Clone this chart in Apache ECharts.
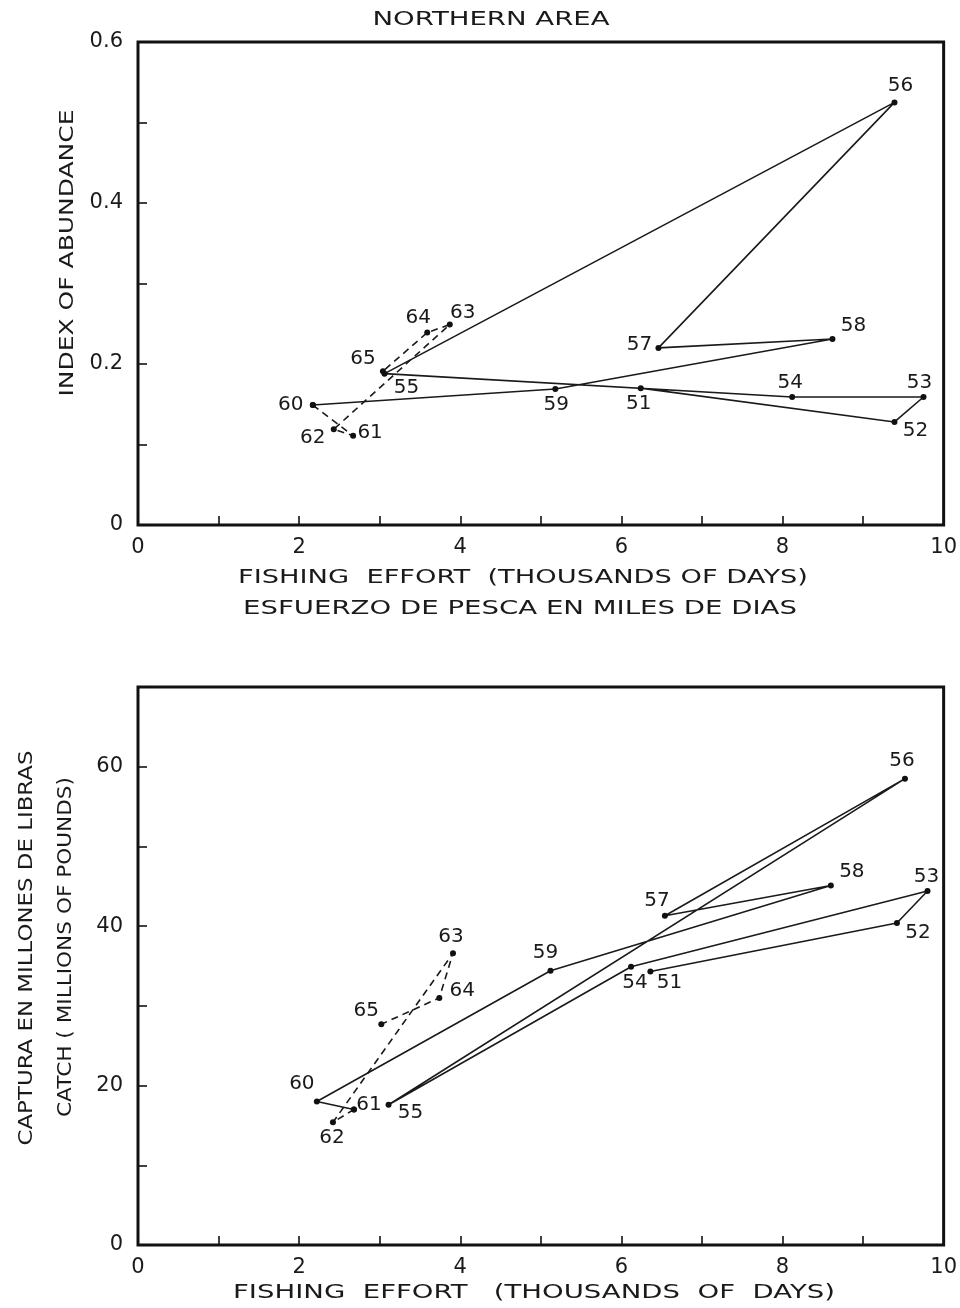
<!DOCTYPE html>
<html>
<head>
<meta charset="utf-8">
<script src="https://cdn.jsdelivr.net/npm/echarts@6/dist/echarts.min.js"></script>
<style>
  html, body { margin: 0; padding: 0; background: #fff; }
  #chart { width: 960px; height: 1308px; }
</style>
</head>
<body>
<div id="chart"></div>
<script>
// season labels (19xx)
const years = ["51", "52", "53", "54", "55", "56", "57", "58", "59", "60", "61", "62", "63", "64", "65"];

// upper panel: effort (thousands of days) vs index of abundance
const effortTop = [6.24, 9.39, 9.75, 8.12, 3.06, 9.39, 6.46, 8.62, 5.18, 2.17, 2.67, 2.43, 3.87, 3.59, 3.04];
const abundance = [0.170, 0.128, 0.159, 0.159, 0.188, 0.525, 0.220, 0.231, 0.169, 0.149, 0.111, 0.119, 0.249, 0.239, 0.191];

// lower panel: effort vs catch (millions of pounds)
const effortBottom = [6.36, 9.42, 9.80, 6.12, 3.11, 9.52, 6.54, 8.60, 5.12, 2.22, 2.68, 2.42, 3.91, 3.74, 3.02];
const catchMillions = [34.3, 40.4, 44.4, 34.9, 17.6, 58.5, 41.3, 45.1, 34.4, 18.0, 17.0, 15.4, 36.6, 31.0, 27.7];

// where each year label sits relative to its dot (px)
const labelOffsetTop = [[-2, 16], [21, 9], [-4, -14], [-2, -14], [22, 14], [6, -17], [-19, -3], [21, -13],
  [1, 16], [-22, 0], [17, -3], [-21, 9], [13, -12], [-9, -15], [-20, -12]];
const labelOffsetBottom = [[19, 11], [21, 10], [-1, -14], [4, 16], [22, 8], [-3, -18], [-8, -15], [21, -14],
  [-5, -18], [-15, -18], [15, -5], [-1, 16], [-2, -16], [23, -7], [-15, -13]];

const FONT = "DejaVu Sans";
const INK = "#1a1a1a";

const chart = echarts.init(document.getElementById("chart"));

const measureCtx = document.createElement("canvas").getContext("2d");
function fitScale(text, size, width) {
  measureCtx.font = size + "px '" + FONT + "'";
  return width / measureCtx.measureText(text).width;
}

function points(xs, ys, offsets, from, to, skip) {
  const out = [];
  for (let i = from; i <= to; i++) {
    out.push({
      value: [xs[i], ys[i]],
      label: { show: i !== skip, formatter: years[i], offset: offsets[i] },
    });
  }
  return out;
}

function track(idx, data, dashed) {
  return {
    type: "line",
    xAxisIndex: idx,
    yAxisIndex: idx,
    data: data,
    symbol: "circle",
    symbolSize: 6,
    itemStyle: { color: "#111" },
    lineStyle: { color: INK, width: 1.6, type: dashed ? [7, 5] : "solid" },
    label: { position: "inside", color: INK, fontSize: 20, fontFamily: FONT },
    silent: true,
  };
}

function title(text, x, y, width, vertical) {
  const size = 20;
  return {
    type: "text",
    x: x,
    y: y,
    rotation: vertical ? Math.PI / 2 : 0,
    scaleX: fitScale(text, size, width),
    silent: true,
    style: {
      text: text,
      fontSize: size,
      fontFamily: FONT,
      fill: INK,
      align: "center",
      verticalAlign: "middle",
    },
  };
}

const xAxisBase = {
  type: "value",
  min: 0,
  max: 10,
  interval: 1,
  axisLine: { show: false },
  axisTick: { inside: true, length: 9, lineStyle: { color: "#111", width: 1.6 } },
  axisLabel: {
    color: INK,
    fontSize: 21,
    fontFamily: FONT,
    margin: 12,
    formatter: (v) => (v % 2 === 0 ? String(v) : ""),
  },
  splitLine: { show: false },
};

const yTick = { inside: true, length: 9, lineStyle: { color: "#111", width: 1.6 } };

const option = {
  animation: false,
  backgroundColor: "#fff",
  grid: [
    { left: 138, top: 42, width: 809, height: 483, show: true, borderColor: "#111", borderWidth: 3 },
    { left: 138, top: 687, width: 809, height: 558, show: true, borderColor: "#111", borderWidth: 3 },
  ],
  xAxis: [
    Object.assign({ gridIndex: 0 }, xAxisBase),
    Object.assign({ gridIndex: 1 }, xAxisBase),
  ],
  yAxis: [
    {
      gridIndex: 0,
      type: "value",
      min: 0,
      max: 0.6,
      interval: 0.1,
      axisLine: { show: false },
      axisTick: yTick,
      splitLine: { show: false },
      axisLabel: {
        color: INK,
        fontSize: 21,
        fontFamily: FONT,
        margin: 15,
        formatter: (v) => {
          const t = Math.round(v * 10);
          if (t % 2 !== 0) return "";
          return t === 0 ? "0" : v.toFixed(1);
        },
      },
    },
    {
      gridIndex: 1,
      type: "value",
      min: 0,
      max: 70,
      interval: 10,
      axisLine: { show: false },
      axisTick: yTick,
      splitLine: { show: false },
      axisLabel: {
        color: INK,
        fontSize: 21,
        fontFamily: FONT,
        margin: 15,
        formatter: (v) => (v % 20 === 0 ? String(v) : ""),
      },
    },
  ],
  series: [
    track(0, points(effortTop, abundance, labelOffsetTop, 0, 9, -1), false),
    track(0, points(effortTop, abundance, labelOffsetTop, 9, 14, 9), true),
    track(1, points(effortBottom, catchMillions, labelOffsetBottom, 0, 10, -1), false),
    track(1, points(effortBottom, catchMillions, labelOffsetBottom, 10, 14, 10), true),
  ],
  graphic: [
    title("NORTHERN AREA", 491, 20, 237, false),
    title("FISHING  EFFORT  (THOUSANDS OF DAYS)", 523, 578, 570, false),
    title("ESFUERZO DE PESCA EN MILES DE DIAS", 520, 609, 554, false),
    title("FISHING  EFFORT   (THOUSANDS  OF  DAYS)", 534, 1293, 602, false),
    title("INDEX OF ABUNDANCE", 68, 253, 287, true),
    title("CAPTURA EN MILLONES DE LIBRAS", 27, 948, 395, true),
    title("CATCH ( MILLIONS OF POUNDS)", 66, 947, 340, true),
  ],
};

chart.setOption(option);
window.addEventListener("resize", () => {
  chart.resize();
});
</script>
</body>
</html>
